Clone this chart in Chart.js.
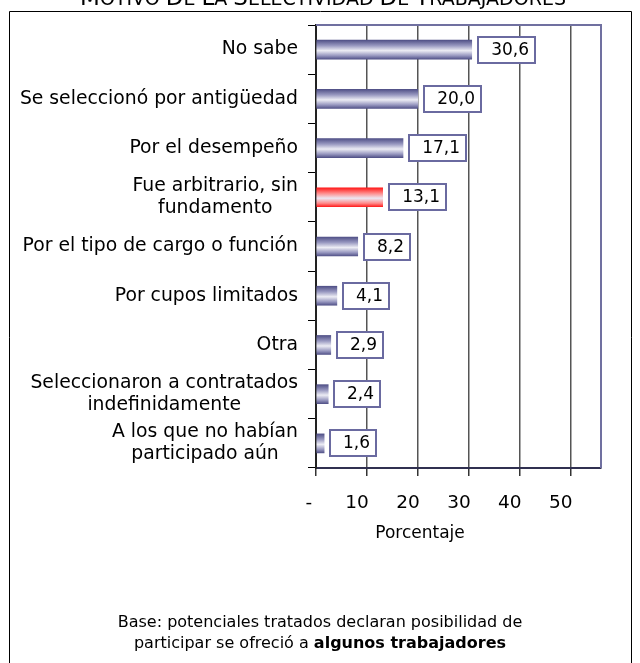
<!DOCTYPE html>
<html>
<head>
<meta charset="utf-8">
<script src="https://cdn.jsdelivr.net/npm/chart.js@4"></script>
<style>
  html, body { margin: 0; padding: 0; background: #fff; }
  #wrap { position: relative; width: 640px; height: 663px; }
</style>
</head>
<body>
<div id="wrap"><canvas id="grafico" width="640" height="663"></canvas></div>
<script>
"use strict";

const categorias = [
    ["No sabe"],
    ["Se seleccionó por antigüedad"],
    ["Por el desempeño"],
    ["Fue arbitrario, sin", "fundamento"],
    ["Por el tipo de cargo o función"],
    ["Por cupos limitados"],
    ["Otra"],
    ["Seleccionaron a contratados", "indefinidamente"],
    ["A los que no habían", "participado aún"],
];
const porcentajes = [30.6, 20.0, 17.1, 13.1, 8.2, 4.1, 2.9, 2.4, 1.6];
const resaltado = [false, false, false, true, false, false, false, false, false];
const ticksX = [0, 10, 20, 30, 40, 50];

const titulo = "Motivo de la Selectividad de Trabajadores";
const tituloEje = "Porcentaje";
const notaLinea1 = "Base: potenciales tratados declaran posibilidad de";
const notaLinea2 = ["participar se ofreció a ", "algunos trabajadores"];

const FUENTE = "'DejaVu Sans', Verdana, sans-serif";

function gradienteBarra(context) {
    const chart = context.chart;
    const esRojo = resaltado[context.dataIndex];
    const yScale = chart.scales && chart.scales.y;
    const yc = yScale ? yScale.getPixelForValue(context.dataIndex) : NaN;
    if (!isFinite(yc)) return esRojo ? "#ff3030" : "#7a7aa8";
    const g = chart.ctx.createLinearGradient(0, yc - 10, 0, yc + 10);
    if (esRojo) {
        g.addColorStop(0, "#ff1010");
        g.addColorStop(0.3, "#ff8a8a");
        g.addColorStop(0.55, "#ece6f2");
        g.addColorStop(0.8, "#ff8a8a");
        g.addColorStop(1, "#ff1010");
    } else {
        g.addColorStop(0, "#4a4a82");
        g.addColorStop(0.3, "#9898c0");
        g.addColorStop(0.55, "#ececf4");
        g.addColorStop(0.8, "#9898c0");
        g.addColorStop(1, "#4a4a82");
    }
    return g;
}

// etiquetas, cajas de valores, marco y textos
const decoracion = {
    id: "decoracion",
    afterDraw(chart) {
        const ctx = chart.ctx;
        const area = chart.chartArea;
        const y = chart.scales.y;
        const x = chart.scales.x;
        ctx.save();

        // marco exterior
        ctx.strokeStyle = "#000";
        ctx.lineWidth = 1;
        ctx.beginPath();
        ctx.moveTo(9.5, 663);
        ctx.lineTo(9.5, 11.5);
        ctx.lineTo(631.5, 11.5);
        ctx.lineTo(631.5, 663);
        ctx.stroke();

        // borde superior y derecho del area
        ctx.strokeStyle = "#7070a0";
        ctx.lineWidth = 2;
        ctx.beginPath();
        ctx.moveTo(area.left, area.top);
        ctx.lineTo(area.right, area.top);
        ctx.lineTo(area.right, area.bottom);
        ctx.stroke();

        // etiquetas de categorias
        ctx.fillStyle = "#000";
        ctx.font = "18.8px " + FUENTE;
        ctx.textBaseline = "middle";
        ctx.textAlign = "center";
        categorias.forEach((lineas, i) => {
            const yc = y.getPixelForValue(i);
            const ancho = Math.max(...lineas.map(l => ctx.measureText(l).width));
            const cx = 298 - ancho / 2;
            const alto = 22;
            lineas.forEach((l, k) => {
                ctx.fillText(l, cx, yc + (k - (lineas.length - 1) / 2) * alto);
            });
        });

        // etiquetas del eje x (formato contable, alineadas a la derecha)
        ctx.font = "18.5px " + FUENTE;
        ctx.textAlign = "right";
        ticksX.forEach(v => {
            const px = x.getPixelForValue(v);
            const txt = v === 0 ? "- " : String(v);
            ctx.fillText(txt, px + 2, 503);
        });

        // cajas de valores
        const meta = chart.getDatasetMeta(0);
        ctx.font = "17px " + FUENTE;
        meta.data.forEach((bar, i) => {
            const txt = porcentajes[i].toFixed(1).replace(".", ",");
            const tw = ctx.measureText(txt).width;
            const w = Math.round(tw + 19);
            const x0 = Math.round(bar.x) + 6;
            const y0 = Math.round(bar.y) - 13;
            ctx.fillStyle = "#fff";
            ctx.fillRect(x0, y0, w, 26);
            ctx.strokeStyle = "#6a6aa0";
            ctx.lineWidth = 2;
            ctx.strokeRect(x0, y0, w, 26);
            ctx.fillStyle = "#000";
            ctx.textAlign = "right";
            ctx.fillText(txt, x0 + w - 6, y0 + 14);
        });

        // titulo del eje
        ctx.textAlign = "center";
        ctx.font = "17px " + FUENTE;
        ctx.fillText(tituloEje, 420, 534);

        // nota al pie
        ctx.font = "16px " + FUENTE;
        ctx.textBaseline = "alphabetic";
        ctx.fillText(notaLinea1, 320, 627);
        const a = ctx.measureText(notaLinea2[0]).width;
        ctx.font = "bold 16px " + FUENTE;
        const b = ctx.measureText(notaLinea2[1]).width;
        const xs = 320 - (a + b) / 2;
        ctx.textAlign = "left";
        ctx.font = "16px " + FUENTE;
        ctx.fillText(notaLinea2[0], xs, 648);
        ctx.font = "bold 16px " + FUENTE;
        ctx.fillText(notaLinea2[1], xs + a, 648);

        // titulo en versalitas (cortado arriba)
        const palabras = titulo.split(" ");
        const partes = [];
        palabras.forEach((p, k) => {
            partes.push({ t: p[0].toUpperCase(), f: "23px " + FUENTE });
            partes.push({ t: p.slice(1).toUpperCase() + (k < palabras.length - 1 ? " " : ""), f: "19px " + FUENTE });
        });
        let total = 0;
        partes.forEach(p => { ctx.font = p.f; p.w = ctx.measureText(p.t).width; total += p.w; });
        let xt = 323 - total / 2;
        partes.forEach(p => { ctx.font = p.f; ctx.fillText(p.t, xt, 5); xt += p.w; });

        ctx.restore();
    },
};

new Chart(document.getElementById("grafico"), {
    type: "bar",
    data: {
        labels: categorias,
        datasets: [{
            data: porcentajes,
            backgroundColor: gradienteBarra,
            borderWidth: 0,
            barThickness: 19,
        }],
    },
    options: {
        indexAxis: "y",
        responsive: false,
        animation: false,
        layout: { padding: { left: 308, right: 39, top: 25, bottom: 0 } },
        plugins: { legend: { display: false }, tooltip: { enabled: false } },
        scales: {
            x: {
                min: 0,
                max: 56,
                afterBuildTicks: s => { s.ticks = ticksX.map(v => ({ value: v })); },
                afterFit: s => { s.height = 195; },
                ticks: { display: false },
                grid: {
                    color: c => (c.tick && c.tick.value === 0 ? "rgba(0,0,0,0)" : "#555"),
                    tickColor: "#333",
                    tickLength: 8,
                    lineWidth: 1.5,
                },
                border: { color: "#303050", width: 2 },
            },
            y: {
                afterFit: s => { s.width = 8; },
                ticks: { display: false },
                grid: { drawOnChartArea: false, tickLength: 8, color: "#000", offset: true },
                border: { color: "#222", width: 2 },
            },
        },
    },
    plugins: [decoracion],
});
</script>
</body>
</html>
